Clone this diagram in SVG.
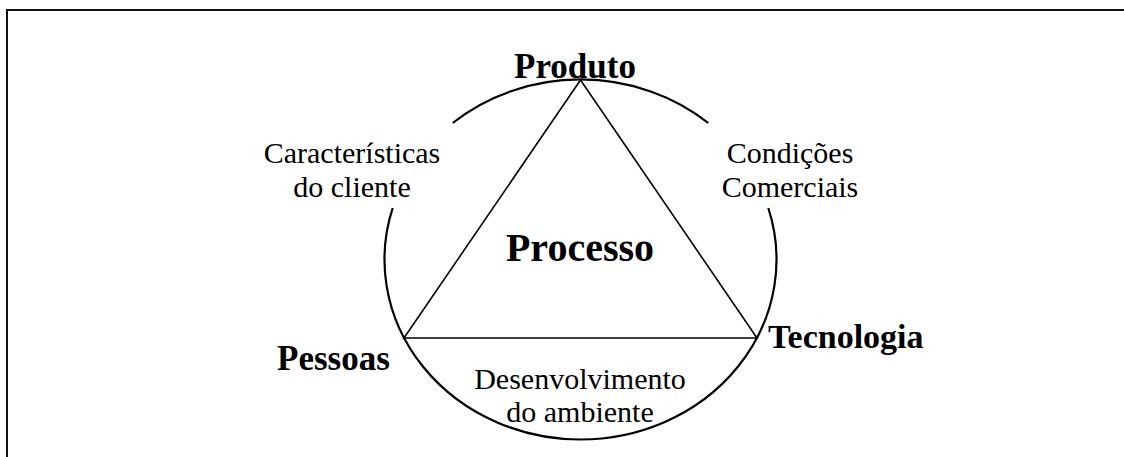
<svg xmlns="http://www.w3.org/2000/svg" width="1124" height="457" viewBox="0 0 1124 457">
<style>
.frame{fill:none;stroke:#111;stroke-width:2}
.circ{fill:none;stroke:#000;stroke-width:2.2}
.tri{fill:none;stroke:#000;stroke-width:1.6}
text{font-family:'Liberation Serif',Tinos,'Times New Roman',Times,serif;fill:#000}
.b{font-weight:bold}
.r{font-size:30px;text-anchor:middle}
</style>
<rect width="1124" height="457" fill="#fff"/>
<path class="frame" d="M 7 470 L 7 10 L 1140 10"/>
<g id="connectors">
<path class="circ" d="M 452.7 123 A 196 180 0 0 1 708.3 123"/>
<path class="circ" d="M 768.3 208 A 196 180 0 1 1 392.7 208"/>
<path class="tri" d="M 580.5 80 L 757 338 L 404 338 Z"/>
</g>
<g id="produto"><text class="b" x="575" y="78" font-size="35" text-anchor="middle" font-family="Liberation Serif">Produto</text></g>
<g id="processo"><text class="b" x="580" y="261" font-size="40" text-anchor="middle" font-family="Liberation Serif">Processo</text></g>
<g id="pessoas"><text class="b" x="277" y="370" font-size="35" font-family="Liberation Serif">Pessoas</text></g>
<g id="tecnologia"><text class="b" x="768" y="348" font-size="34" font-family="Liberation Serif">Tecnologia</text></g>
<g id="caracteristicas"><text class="r" x="352" y="163" font-family="Liberation Serif">Características</text><text class="r" x="352" y="197" font-family="Liberation Serif">do cliente</text></g>
<g id="condicoes"><text class="r" x="790" y="163" font-family="Liberation Serif">Condições</text><text class="r" x="790" y="197" font-family="Liberation Serif">Comerciais</text></g>
<g id="desenvolvimento"><text class="r" x="580" y="389" font-family="Liberation Serif">Desenvolvimento</text><text class="r" x="580" y="422" font-family="Liberation Serif">do ambiente</text></g>
</svg>
